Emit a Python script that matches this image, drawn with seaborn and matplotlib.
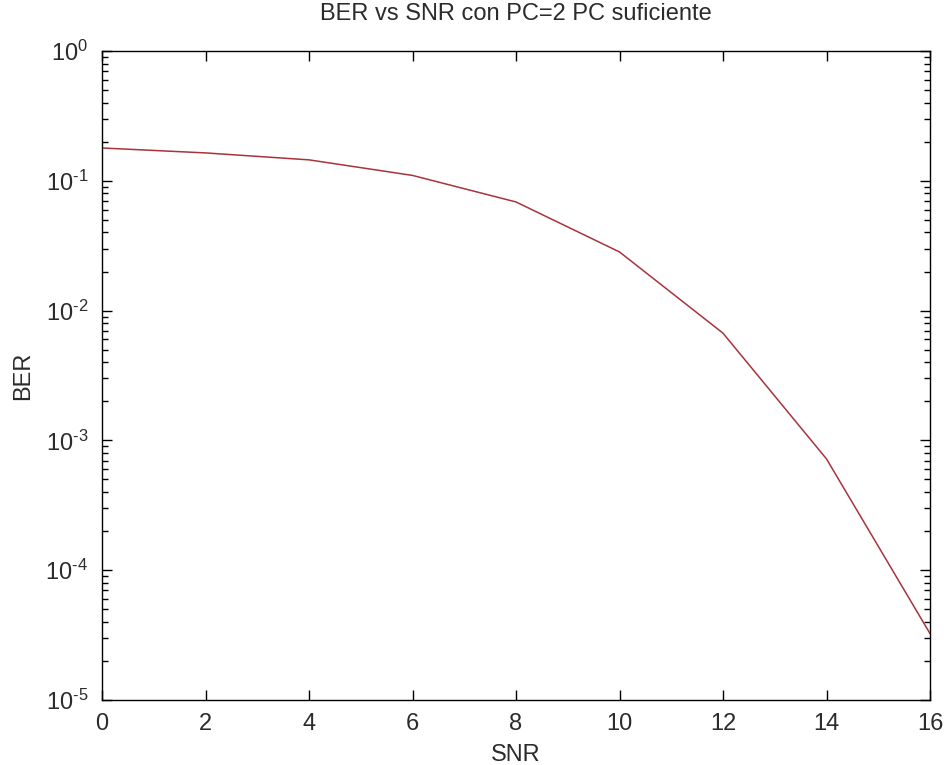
import matplotlib
matplotlib.use("Agg")
import matplotlib.pyplot as plt
import seaborn as sns
import pandas as pd
from matplotlib.ticker import LogLocator, FixedLocator, NullFormatter, FuncFormatter
import numpy as np

snr = [0, 2, 4, 6, 8, 10, 12, 14, 16]
ber = [0.179, 0.164, 0.145, 0.110, 0.0687, 0.0283, 0.0067, 7.2e-4, 3.25e-5]
x_ticks = [0, 2, 4, 6, 8, 10, 12, 14, 16]

sns.set_style("ticks")
plt.rcParams['font.family'] = ['Liberation Sans', 'DejaVu Sans']
plt.rcParams['axes.unicode_minus'] = False
plt.rcParams['mathtext.fontset'] = 'custom'
plt.rcParams['mathtext.rm'] = 'Liberation Sans'

TXT = "#2b2b2b"

fig = plt.figure(figsize=(9.44, 7.65), dpi=100)
ax = fig.add_axes([102/944, 1 - 700/765, (930-102)/944, (700-51)/765])

df = pd.DataFrame({"SNR": snr, "BER": ber})
sns.lineplot(data=df, x="SNR", y="BER", ax=ax, color="#a8333c", linewidth=1.1)

ax.set_yscale("log")
ax.set_xlim(0, 16)
ax.set_ylim(1e-5, 1)
ax.xaxis.set_major_locator(FixedLocator(x_ticks))
ax.yaxis.set_major_locator(LogLocator(base=10, numticks=10))
ax.yaxis.set_minor_locator(LogLocator(base=10, subs=range(2, 10), numticks=10))
ax.yaxis.set_minor_formatter(NullFormatter())


def fmt(v, p):
    e = int(round(np.log10(v)))
    if e < 0:
        return r"$\mathregular{10^{\text{-}%d}}$" % (-e)
    return r"$\mathregular{10^{%d}}$" % e


ax.yaxis.set_major_formatter(FuncFormatter(fmt))

for s in ax.spines.values():
    s.set_visible(True)
    s.set_linewidth(1.0)
    s.set_color("black")
ax.tick_params(which="both", direction="in", top=True, right=True, color="black",
               labelcolor=TXT, labelsize=17, width=1.0)
ax.tick_params(which="major", length=7)
ax.tick_params(which="minor", length=4)
ax.tick_params(axis="x", pad=9)
ax.tick_params(axis="y", pad=10)

ax.set_xlabel("SNR", fontsize=17, labelpad=7, color=TXT)
ax.set_ylabel("BER", fontsize=17, labelpad=8, color=TXT)
ax.set_title("BER vs SNR con PC=2 PC suficiente", fontsize=17, pad=22, color=TXT)

fig.savefig("out.png", dpi=100, facecolor="white")
